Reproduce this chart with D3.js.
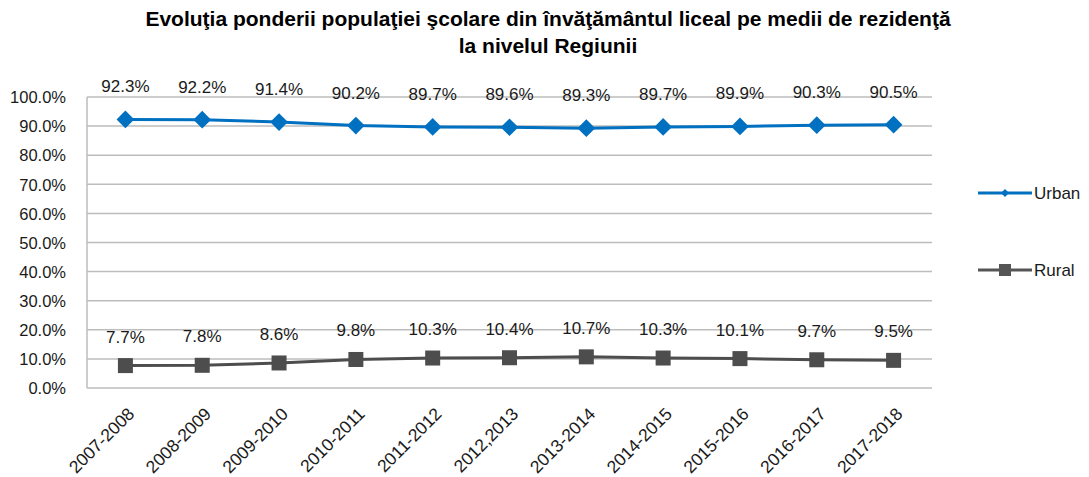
<!DOCTYPE html>
<html><head><meta charset="utf-8">
<script src="https://cdn.jsdelivr.net/npm/d3@7"></script>
<style>body{margin:0;background:#fff}svg{display:block}</style>
</head><body>
<script>
const categories = ["2007-2008","2008-2009","2009-2010","2010-2011","2011-2012","2012,2013","2013-2014","2014-2015","2015-2016","2016-2017","2017-2018"];
const urban = [92.3,92.2,91.4,90.2,89.7,89.6,89.3,89.7,89.9,90.3,90.5];
const rural = [7.7,7.8,8.6,9.8,10.3,10.4,10.7,10.3,10.1,9.7,9.5];
const yTicks = [0,10,20,30,40,50,60,70,80,90,100];
const titleLines = ["Evoluţia ponderii populaţiei şcolare din învăţământul liceal pe medii de rezidenţă","la nivelul Regiunii"];

const W=1089,H=477;
const svg=d3.select("body").append("svg").attr("width",W).attr("height",H);
const font="'Liberation Sans', Arial, sans-serif";
const x=d3.scaleBand().domain(categories).range([87,932]);
const y=d3.scaleLinear().domain([0,100]).range([388,97]);

// title
svg.append("g").selectAll("text").data(titleLines).join("text")
  .attr("x",548).attr("y",(d,i)=>26+i*27).attr("text-anchor","middle")
  .attr("font-family",font).attr("font-weight","bold").attr("font-size",21)
  .attr("fill","#000").text(d=>d);

// grid
svg.append("g").selectAll("line").data(yTicks).join("line")
  .attr("x1",87).attr("x2",932).attr("y1",d=>y(d)).attr("y2",d=>y(d))
  .attr("stroke","#BDBDBD").attr("stroke-width",1.5);
svg.append("line").attr("x1",87).attr("x2",87).attr("y1",97).attr("y2",388).attr("stroke","#BDBDBD").attr("stroke-width",1.5);

// y axis labels
const yAxis=d3.axisLeft(y).tickValues(yTicks).tickSize(0).tickPadding(0).tickFormat(d=>d.toFixed(1)+"%");
const ga=svg.append("g").attr("transform","translate(66,0)").call(yAxis);
ga.select(".domain").remove();
ga.selectAll("text").attr("font-family",font).attr("font-size",16.5).attr("fill","#1a1a1a").attr("dy","0.35em");

// x axis labels
const xAxis=d3.axisBottom(x).tickSize(0).tickPadding(0);
const gx=svg.append("g").attr("transform","translate(0,388)").call(xAxis);
gx.select(".domain").remove();
gx.selectAll("text").attr("font-family",font).attr("font-size",17.5).attr("fill","#1a1a1a")
  .attr("text-anchor","end").attr("dy",null).attr("y",0)
  .attr("transform","translate(10,27) rotate(-45)");

const cx=i=>x(categories[i])+x.bandwidth()/2;
const line=d3.line().x((d,i)=>cx(i)).y(d=>y(d));

// urban
svg.append("path").datum(urban).attr("d",line).attr("fill","none").attr("stroke","#0070C0").attr("stroke-width",3);
svg.append("g").selectAll("path").data(urban).join("path")
  .attr("d",d3.symbol(d3.symbolDiamond2,200)).attr("transform",(d,i)=>`translate(${cx(i)},${y(d)})`)
  .attr("fill","#0070C0");
svg.append("g").selectAll("text").data(urban).join("text")
  .attr("x",(d,i)=>cx(i)).attr("y",d=>y(d)-27).attr("text-anchor","middle")
  .attr("font-family",font).attr("font-size",17).attr("fill","#1a1a1a").text(d=>d.toFixed(1)+"%");

// rural
svg.append("path").datum(rural).attr("d",line).attr("fill","none").attr("stroke","#4D4D4D").attr("stroke-width",3);
svg.append("g").selectAll("rect").data(rural).join("rect")
  .attr("x",(d,i)=>cx(i)-7.5).attr("y",d=>y(d)-7.5).attr("width",15).attr("height",15).attr("fill","#4D4D4D");
svg.append("g").selectAll("text").data(rural).join("text")
  .attr("x",(d,i)=>cx(i)).attr("y",d=>y(d)-23).attr("text-anchor","middle")
  .attr("font-family",font).attr("font-size",17).attr("fill","#1a1a1a").text(d=>d.toFixed(1)+"%");

// legend
const leg=[{name:"Urban",c:"#0070C0",y:193,m:"d"},{name:"Rural",c:"#555",y:270,m:"s"}];
const lg=svg.append("g");
leg.forEach(l=>{
  lg.append("line").attr("x1",978).attr("x2",1032).attr("y1",l.y).attr("y2",l.y).attr("stroke",l.c).attr("stroke-width",3);
  if(l.m==="d") lg.append("path").attr("d",d3.symbol(d3.symbolDiamond2,40)).attr("transform",`translate(1005,${l.y})`).attr("fill",l.c);
  else lg.append("rect").attr("x",999).attr("y",l.y-6).attr("width",12).attr("height",12).attr("fill",l.c);
  lg.append("text").attr("x",1034).attr("y",l.y).attr("dy","0.35em").attr("font-family",font).attr("font-size",17).attr("fill","#1a1a1a").text(l.name);
});
</script>
</body></html>
